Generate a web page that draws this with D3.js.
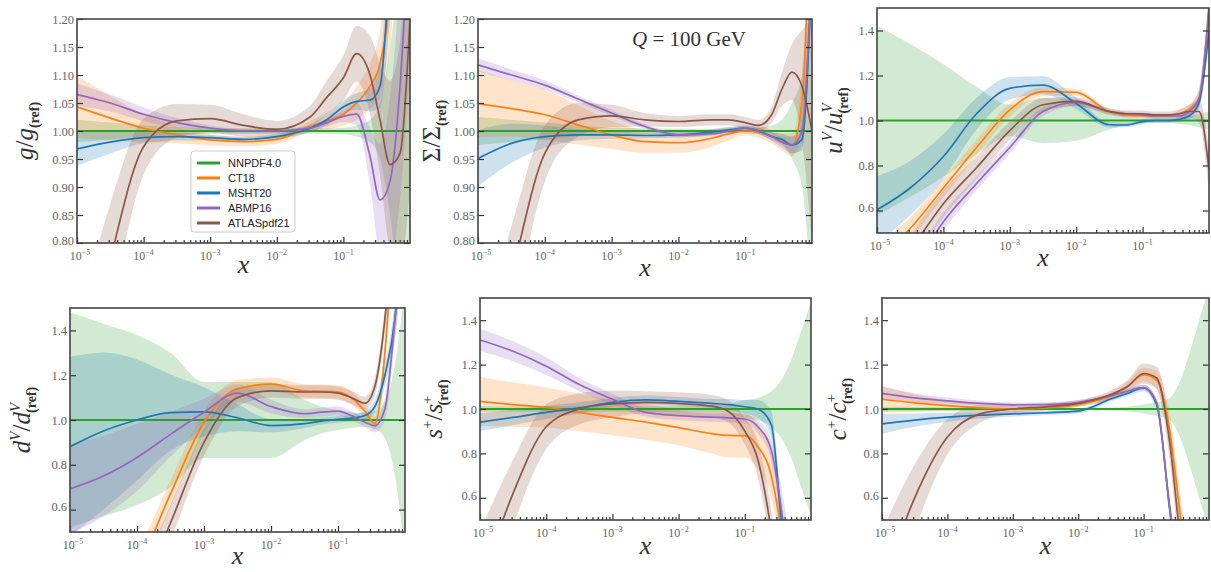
<!DOCTYPE html>
<html><head><meta charset="utf-8">
<script src="https://cdn.jsdelivr.net/npm/d3@7"></script>
<style>body{margin:0;background:#fff}</style>
</head><body><svg id="c" width="1211" height="572"></svg>
<script>
// ---------- data ----------
const xGrid = [1e-5,3.16e-5,1e-4,3.16e-4,1e-3,3.16e-3,0.01,0.0316,0.0562,0.1,0.158,0.251,0.355,0.501,0.708,1.0];
const series = ["NNPDF4.0","CT18","MSHT20","ABMP16","ATLASpdf21"];
const colors = ["#2ca02c","#ff7f0e","#1f77b4","#9467bd","#8c564b"];
const xMajorTicks = [1e-5,1e-4,1e-3,1e-2,1e-1];
const xTickExponents = ["\u22125","\u22124","\u22123","\u22122","\u22121"];
const yTicksNarrow = [0.80,0.85,0.90,0.95,1.00,1.05,1.10,1.15,1.20];
const yTicksWide = [0.6,0.8,1.0,1.2,1.4];
const ref = [1,1,1,1,1,1,1,1,1,1,1,1,1,1,1,1];

// gluon
const g_NNPDF_err = [0.02,0.015,0.01,0.007,0.005,0.005,0.005,0.005,0.005,0.006,0.01,0.02,0.05,0.15,0.3,0.5];
const g_CT18 = [1.043,1.023,1.005,0.993,0.984,0.981,0.985,1.008,1.018,1.03,1.05,1.08,1.12,1.25,1.6,2.2];
const g_CT18_err = [0.055,0.04,0.025,0.015,0.01,0.008,0.008,0.01,0.015,0.02,0.03,0.04,0.06,0.1,0.15,0.2];
const g_MSHT20 = [0.968,0.98,0.988,0.99,0.988,0.985,0.99,1.005,1.02,1.043,1.053,1.055,1.08,1.3,1.6,2.0];
const g_MSHT20_err = [0.03,0.02,0.01,0.007,0.005,0.005,0.005,0.007,0.01,0.012,0.015,0.02,0.04,0.1,0.2,0.3];
const g_ABMP16 = [1.065,1.05,1.03,1.015,1.005,1.0,1.0,1.005,1.015,1.026,1.03,0.955,0.877,0.91,1.08,1.4];
const g_ABMP16_err = [0.02,0.015,0.012,0.008,0.005,0.004,0.004,0.005,0.007,0.01,0.02,0.05,0.1,0.15,0.2,0.3];
const g_ATLAS = [0.5,0.77,0.972,1.018,1.022,1.01,1.003,1.025,1.06,1.095,1.138,1.1,1.02,0.94,0.96,1.2];
const g_ATLAS_err = [0.15,0.1,0.05,0.03,0.025,0.02,0.015,0.02,0.03,0.04,0.05,0.07,0.1,0.15,0.2,0.3];

// singlet
const S_NNPDF_err = [0.025,0.02,0.015,0.01,0.006,0.005,0.004,0.004,0.004,0.005,0.006,0.01,0.02,0.05,0.1,0.3];
const S_CT18 = [1.049,1.04,1.029,1.011,0.993,0.981,0.979,0.987,0.995,1.0,0.998,0.99,0.98,0.975,1.05,1.5];
const S_CT18_err = [0.06,0.05,0.045,0.035,0.025,0.02,0.018,0.015,0.012,0.008,0.01,0.012,0.015,0.02,0.05,0.1];
const S_MSHT20 = [0.951,0.978,0.99,0.993,0.993,0.992,0.993,0.998,1.002,1.005,1.0,0.99,0.985,0.975,0.985,1.3];
const S_MSHT20_err = [0.05,0.035,0.02,0.01,0.007,0.005,0.005,0.005,0.005,0.005,0.005,0.007,0.01,0.015,0.02,0.05];
const S_ABMP16 = [1.118,1.1,1.082,1.057,1.032,1.008,0.993,0.995,1.0,1.005,1.0,0.99,0.98,0.975,1.0,1.3];
const S_ABMP16_err = [0.012,0.01,0.008,0.006,0.005,0.004,0.004,0.004,0.005,0.005,0.006,0.008,0.01,0.015,0.03,0.05];
const S_ATLAS = [0.5,0.74,0.96,1.02,1.027,1.02,1.017,1.02,1.02,1.015,1.01,1.03,1.075,1.105,1.08,1.0];
const S_ATLAS_err = [0.12,0.09,0.05,0.03,0.02,0.012,0.01,0.01,0.01,0.01,0.01,0.015,0.03,0.05,0.1,0.2];

// u valence
const uV_NNPDF_err = [0.42,0.34,0.25,0.15,0.07,0.1,0.09,0.04,0.02,0.012,0.01,0.01,0.015,0.02,0.03,0.04];
const uV_CT18 = [0.38,0.52,0.7,0.88,1.047,1.128,1.125,1.04,1.025,1.02,1.02,1.02,1.03,1.05,1.1,1.5];
const uV_CT18_err = [0.06,0.05,0.04,0.035,0.03,0.02,0.015,0.01,0.01,0.01,0.01,0.01,0.015,0.02,0.04,0.08];
const uV_MSHT20 = [0.603,0.7,0.84,1.03,1.143,1.157,1.076,0.981,0.98,0.995,1.0,1.0,1.005,1.02,1.08,1.4];
const uV_MSHT20_err = [0.15,0.12,0.1,0.07,0.05,0.04,0.025,0.012,0.01,0.01,0.01,0.01,0.01,0.015,0.02,0.05];
const uV_ABMP16 = [0.15,0.32,0.55,0.72,0.88,1.04,1.08,1.04,1.03,1.025,1.02,1.02,1.02,1.04,1.1,1.5];
const uV_ABMP16_err = [0.05,0.05,0.04,0.03,0.025,0.02,0.015,0.01,0.01,0.01,0.01,0.01,0.01,0.02,0.04,0.08];
const uV_ATLAS = [0.2,0.42,0.63,0.79,0.955,1.07,1.085,1.04,1.03,1.03,1.025,1.025,1.03,1.04,1.04,0.78];
const uV_ATLAS_err = [0.08,0.07,0.06,0.05,0.04,0.03,0.02,0.015,0.015,0.015,0.015,0.015,0.02,0.03,0.05,0.1];

// d valence
const dV_NNPDF_err = [0.48,0.43,0.38,0.3,0.17,0.17,0.17,0.09,0.06,0.045,0.035,0.03,0.04,0.08,0.25,0.6];
const dV_CT18 = [-0.2,0.1,0.33,0.67,0.99,1.14,1.16,1.13,1.128,1.125,1.1,1.04,0.985,1.3,2.0,3.0];
const dV_CT18_err = [0.1,0.1,0.08,0.06,0.05,0.04,0.03,0.03,0.03,0.03,0.03,0.03,0.03,0.06,0.1,0.2];
const dV_MSHT20 = [0.881,0.951,1.0,1.033,1.036,1.01,0.975,0.984,0.995,1.003,1.008,1.02,1.06,1.2,1.45,2.0];
const dV_MSHT20_err = [0.4,0.35,0.27,0.17,0.11,0.06,0.03,0.02,0.015,0.015,0.015,0.02,0.03,0.05,0.08,0.1];
const dV_ABMP16 = [0.692,0.75,0.833,0.936,1.035,1.12,1.06,1.028,1.035,1.04,1.02,0.99,0.975,1.05,1.45,2.0];
const dV_ABMP16_err = [0.2,0.18,0.15,0.1,0.06,0.04,0.03,0.02,0.02,0.02,0.02,0.02,0.03,0.05,0.1,0.2];
const dV_ATLAS = [-0.5,-0.1,0.19,0.54,0.9,1.1,1.13,1.125,1.125,1.12,1.1,1.075,1.15,1.45,2.0,3.0];
const dV_ATLAS_err = [0.15,0.12,0.1,0.08,0.06,0.04,0.03,0.03,0.03,0.03,0.03,0.03,0.04,0.06,0.1,0.2];

// strange
const sp_NNPDF_err = [0.012,0.012,0.012,0.012,0.012,0.012,0.012,0.015,0.02,0.04,0.05,0.08,0.13,0.22,0.35,0.48];
const sp_CT18 = [1.034,1.02,1.007,0.985,0.962,0.941,0.916,0.889,0.881,0.88,0.83,0.7,0.45,0.1,0,0];
const sp_CT18_err = [0.11,0.1,0.09,0.085,0.08,0.08,0.08,0.09,0.1,0.1,0.1,0.1,0.1,0.1,0.1,0.1];
const sp_MSHT20 = [0.941,0.962,0.985,1.005,1.03,1.041,1.034,1.025,1.02,1.01,1.0,0.93,0.5,0.1,0,0];
const sp_MSHT20_err = [0.04,0.035,0.03,0.025,0.02,0.02,0.02,0.02,0.025,0.03,0.04,0.06,0.1,0.15,0.15,0.15];
const sp_ABMP16 = [1.311,1.26,1.193,1.11,1.044,0.985,0.97,0.963,0.96,0.955,0.92,0.815,0.55,0.2,0,0];
const sp_ABMP16_err = [0.05,0.045,0.04,0.03,0.025,0.02,0.02,0.02,0.02,0.02,0.03,0.05,0.1,0.2,0.2,0.2];
const sp_ATLAS = [0.2,0.62,0.92,1.0,1.023,1.03,1.025,1.013,0.99,0.9,0.77,0.45,0.1,0,0,0];
const sp_ATLAS_err = [0.25,0.15,0.1,0.07,0.06,0.05,0.05,0.05,0.05,0.06,0.08,0.1,0.1,0.1,0.1,0.1];

// charm
const cp_NNPDF_err = [0.01,0.01,0.008,0.006,0.005,0.005,0.005,0.007,0.01,0.02,0.03,0.05,0.12,0.25,0.4,0.55];
const cp_CT18 = [1.044,1.028,1.015,1.005,1.0,1.005,1.02,1.06,1.1,1.155,1.13,0.9,0.55,0.2,0,0];
const cp_CT18_err = [0.06,0.04,0.025,0.015,0.012,0.01,0.01,0.015,0.02,0.03,0.04,0.08,0.1,0.1,0.1,0.1];
const cp_MSHT20 = [0.933,0.95,0.963,0.972,0.978,0.983,0.99,1.045,1.07,1.095,1.02,0.55,0.2,0,0,0];
const cp_MSHT20_err = [0.045,0.03,0.02,0.015,0.012,0.01,0.01,0.01,0.012,0.015,0.02,0.05,0.1,0.1,0.1,0.1];
const cp_ABMP16 = [1.07,1.05,1.037,1.025,1.019,1.02,1.03,1.06,1.08,1.096,1.03,0.55,0.2,0,0,0];
const cp_ABMP16_err = [0.03,0.02,0.015,0.012,0.01,0.01,0.01,0.01,0.01,0.012,0.02,0.05,0.1,0.1,0.1,0.1];
const cp_ATLAS = [0.2,0.6,0.874,0.978,1.0,1.01,1.025,1.065,1.1,1.16,1.14,0.85,0.45,0.2,0,0];
const cp_ATLAS_err = [0.25,0.15,0.08,0.04,0.02,0.015,0.015,0.02,0.03,0.045,0.05,0.08,0.1,0.1,0.1,0.1];

// ---------- layout ----------
const svg = d3.select('#c');
const SERIF = "'Liberation Serif','DejaVu Serif',serif";
const panels = [
  {c:[ref,g_CT18,g_MSHT20,g_ABMP16,g_ATLAS], e:[g_NNPDF_err,g_CT18_err,g_MSHT20_err,g_ABMP16_err,g_ATLAS_err],
   box:[77,19,410,243], yd:[0.8,1.2], yt:yTicksNarrow, fmt:'.2f', lab:[{t:'g',it:1},{t:'/'},{t:'g',it:1},{t:'(ref)',fs:14,dy:6,fw:'bold'}], lx:33, xl:273},
  {c:[ref,S_CT18,S_MSHT20,S_ABMP16,S_ATLAS], e:[S_NNPDF_err,S_CT18_err,S_MSHT20_err,S_ABMP16_err,S_ATLAS_err],
   box:[478,19,812,243], yd:[0.8,1.2], yt:yTicksNarrow, fmt:'.2f', lab:[{t:'\u03A3'},{t:'/'},{t:'\u03A3'},{t:'(ref)',fs:14,dy:6,fw:'bold'}], lx:440, xl:276},
  {c:[ref,uV_CT18,uV_MSHT20,uV_ABMP16,uV_ATLAS], e:[uV_NNPDF_err,uV_CT18_err,uV_MSHT20_err,uV_ABMP16_err,uV_ATLAS_err],
   box:[877,8,1209,233], yd:[0.5,1.5], yt:yTicksWide, fmt:'.1f', lab:[{t:'u',it:1},{t:'V',it:1,fs:15,dy:-10},{t:'/',dy:10},{t:'u',it:1},{t:'V',it:1,fs:15,dy:-10},{t:'(ref)',fs:14,dx:-10,dy:16,fw:'bold'}], lx:842, xl:266},
  {c:[ref,dV_CT18,dV_MSHT20,dV_ABMP16,dV_ATLAS], e:[dV_NNPDF_err,dV_CT18_err,dV_MSHT20_err,dV_ABMP16_err,dV_ATLAS_err],
   box:[70,308,405,532], yd:[0.5,1.5], yt:yTicksWide, fmt:'.1f', lab:[{t:'d',it:1},{t:'V',it:1,fs:15,dy:-10},{t:'/',dy:10},{t:'d',it:1},{t:'V',it:1,fs:15,dy:-10},{t:'(ref)',fs:14,dx:-10,dy:16,fw:'bold'}], lx:30, xl:564},
  {c:[ref,sp_CT18,sp_MSHT20,sp_ABMP16,sp_ATLAS], e:[sp_NNPDF_err,sp_CT18_err,sp_MSHT20_err,sp_ABMP16_err,sp_ATLAS_err],
   box:[480,298,811,520], yd:[0.5,1.5], yt:yTicksWide, fmt:'.1f', lab:[{t:'s',it:1},{t:'+',fs:15,dy:-10},{t:'/',dy:10},{t:'s',it:1},{t:'+',fs:15,dy:-10},{t:'(ref)',fs:14,dx:-10,dy:16,fw:'bold'}], lx:442, xl:554},
  {c:[ref,cp_CT18,cp_MSHT20,cp_ABMP16,cp_ATLAS], e:[cp_NNPDF_err,cp_CT18_err,cp_MSHT20_err,cp_ABMP16_err,cp_ATLAS_err],
   box:[882,298,1209,520], yd:[0.5,1.5], yt:yTicksWide, fmt:'.1f', lab:[{t:'c',it:1},{t:'+',fs:15,dy:-10},{t:'/',dy:10},{t:'c',it:1},{t:'+',fs:15,dy:-10},{t:'(ref)',fs:14,dx:-10,dy:16,fw:'bold'}], lx:846, xl:554}
];

panels.forEach((p,pi)=>{
  const [L,T,R,B] = p.box;
  const x = d3.scaleLog().domain([1e-5,1]).range([L,R]);
  const y = d3.scaleLinear().domain(p.yd).range([B,T]);
  svg.append('clipPath').attr('id','clip'+pi).append('rect')
     .attr('x',L).attr('y',T).attr('width',R-L).attr('height',B-T);
  const gp = svg.append('g').attr('clip-path',`url(#clip${pi})`);
  series.forEach((s,k)=>{
    const c=p.c[k], e=p.e[k];
    const area = d3.area().x((d,i)=>x(xGrid[i])).y0((d,i)=>y(c[i]-e[i])).y1((d,i)=>y(c[i]+e[i])).curve(d3.curveMonotoneX);
    gp.append('path').attr('d',area(c)).attr('fill',colors[k]).attr('fill-opacity',0.22);
  });
  series.forEach((s,k)=>{
    const c=p.c[k];
    const line = d3.line().x((d,i)=>x(xGrid[i])).y(d=>y(d)).curve(d3.curveMonotoneX);
    gp.append('path').attr('d',line(c)).attr('fill','none').attr('stroke',colors[k]).attr('stroke-width',k===0?2.2:1.7);
  });
  // axes
  const ax = svg.append('g').attr('font-family',SERIF);
  const la = ax.append('g').attr('transform',`translate(${L},0)`)
    .call(d3.axisLeft(y).tickValues(p.yt).tickSize(-6).tickPadding(3).tickFormat(d3.format(p.fmt)));
  const ra = ax.append('g').attr('transform',`translate(${R},0)`)
    .call(d3.axisRight(y).tickValues(p.yt).tickSize(-6).tickFormat(''));
  const minors = x.ticks().filter(v=>!xMajorTicks.some(m=>Math.abs(m-v)/v<1e-6) && v<1);
  const ba = ax.append('g').attr('transform',`translate(0,${B})`)
    .call(d3.axisBottom(x).tickValues(xMajorTicks).tickSize(-6).tickFormat(''));
  const bm = ax.append('g').attr('transform',`translate(0,${B})`)
    .call(d3.axisBottom(x).tickValues(minors).tickSize(-3).tickFormat(''));
  [la,ra,ba,bm].forEach(a=>{ a.select('.domain').remove(); a.selectAll('line').attr('stroke','#333').attr('stroke-width',1.2);
     a.selectAll('text').attr('font-size',12.5).attr('fill','#666').attr('font-family',SERIF); });
  // lowest y tick label nudged up slightly so it does not collide with the first x label
  la.selectAll('.tick').filter((d,i)=>i===0).select('text').attr('dy','0.1em');
  xMajorTicks.forEach((v,i)=>{
    const t = ax.append('text').attr('x',x(v)+(i===0?3:0)).attr('y',B+17).attr('text-anchor','middle')
      .attr('font-size',12).attr('fill','#666');
    t.append('tspan').text('10');
    t.append('tspan').text(xTickExponents[i]).attr('font-size',8).attr('dy',-5);
  });
  ax.append('rect').attr('x',L).attr('y',T).attr('width',R-L).attr('height',B-T)
    .attr('fill','none').attr('stroke','#444').attr('stroke-width',1.6);
  // x label
  ax.append('text').attr('x',(L+R)/2).attr('y',p.xl).attr('text-anchor','middle')
    .attr('font-size',26).attr('font-style','italic').attr('fill','#333').text('x');
  // y label
  const yl = svg.append('text').attr('transform',`translate(${p.lx},${(T+B)/2}) rotate(-90)`)
    .attr('text-anchor','middle').attr('font-family',SERIF).attr('font-size',25).attr('fill','#333');
  p.lab.forEach(q=>{
    const ts = yl.append('tspan').text(q.t);
    if(q.it) ts.attr('font-style','italic');
    if(q.fs) ts.attr('font-size',q.fs);
    if(q.dy) ts.attr('dy',q.dy);
    if(q.dx) ts.attr('dx',q.dx);
    if(q.fw) ts.attr('font-weight',q.fw);
  });
});

// Q label
const ql = svg.append('text').attr('x',632).attr('y',46).attr('font-family',SERIF).attr('font-size',21).attr('fill','#333');
ql.append('tspan').attr('font-style','italic').text('Q');
ql.append('tspan').text(' = 100 GeV');

// legend
const lg = svg.append('g');
lg.append('rect').attr('x',191).attr('y',151).attr('width',104).attr('height',81).attr('rx',3)
  .attr('fill','#fff').attr('fill-opacity',0.85).attr('stroke','#ccc');
series.forEach((s,k)=>{
  const yy = 163 + k*15;
  lg.append('line').attr('x1',197).attr('x2',220).attr('y1',yy).attr('y2',yy).attr('stroke',colors[k]).attr('stroke-width',3);
  lg.append('text').attr('x',228).attr('y',yy+4).attr('font-family',"'Liberation Sans',Arial,sans-serif").attr('font-size',11).attr('fill','#222').text(s);
});
</script></body></html>
